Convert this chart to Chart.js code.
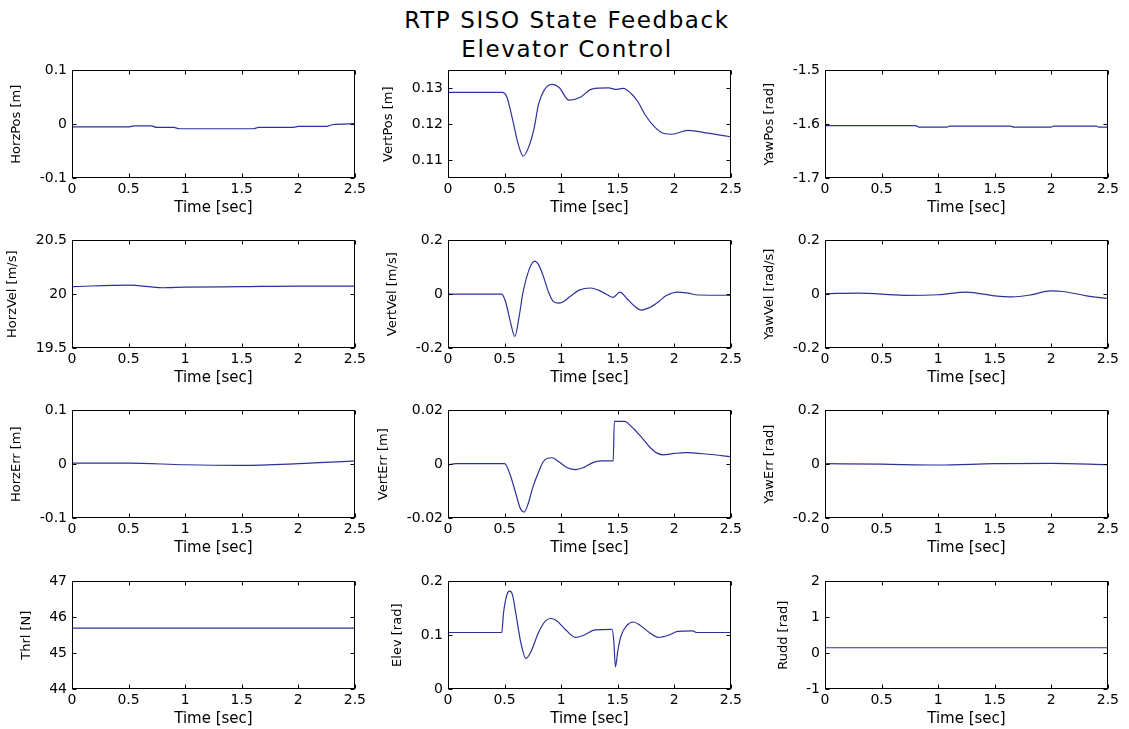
<!DOCTYPE html>
<html>
<head>
<meta charset="utf-8">
<script src="https://cdn.jsdelivr.net/npm/chart.js@4.4.1/dist/chart.umd.min.js"></script>
<style>
  html, body { margin: 0; padding: 0; background: #fff; }
  #fig { position: relative; width: 1129px; height: 729px; overflow: hidden; background: #fff; }
  #title {
    position: absolute; left: 0; top: 6px; width: 1134px;
    text-align: center; font: 23px/29px 'DejaVu Sans', sans-serif;
    letter-spacing: 1.6px; color: #000;
  }
  canvas { position: absolute; }
</style>
</head>
<body>
<div id="fig">
  <div id="title">RTP SISO State Feedback<br>Elevator Control</div>
</div>
<script>
// time axis ticks (shared by all panels)
var xTicks = [0, 0.5, 1, 1.5, 2, 2.5];

// row 1
var horzPosT = [0, 0.5, 0.55, 0.7, 0.75, 0.9, 0.95, 1.6, 1.65, 1.95, 2.0, 2.25, 2.3, 2.5];
var horzPosV = [-0.005, -0.005, -0.003, -0.003, -0.006, -0.006, -0.0085, -0.0085, -0.006, -0.006, -0.004, -0.004, -0.001, 0.001];
var horzPosTicks = [-0.1, 0, 0.1];

var vertPosT = [0, 0.48, 0.52, 0.57, 0.62, 0.664, 0.71, 0.76, 0.8, 0.85, 0.92, 0.98, 1.07, 1.17, 1.27, 1.42, 1.48, 1.55, 1.62, 1.68, 1.74, 1.83, 1.91, 1.98, 2.12, 2.3, 2.5];
var vertPosV = [0.1289, 0.1289, 0.1276, 0.1214, 0.1145, 0.1111, 0.1134, 0.1187, 0.1255, 0.1295, 0.1311, 0.1303, 0.1267, 0.1275, 0.1298, 0.1301, 0.1297, 0.1300, 0.1285, 0.1262, 0.1227, 0.1191, 0.1174, 0.1172, 0.1183, 0.1175, 0.1165];
var vertPosTicks = [0.11, 0.12, 0.13];

var yawPosT = [0, 0.8, 0.83, 1.08, 1.1, 1.64, 1.67, 2.0, 2.02, 2.4, 2.42, 2.5];
var yawPosV = [-1.6025, -1.6025, -1.6055, -1.6055, -1.6035, -1.6035, -1.6055, -1.6055, -1.6035, -1.6035, -1.6055, -1.6055];
var yawPosTicks = [-1.7, -1.6, -1.5];

// row 2
var horzVelT = [0, 0.5, 0.8, 1.0, 1.5, 2.0, 2.5];
var horzVelV = [20.07, 20.085, 20.06, 20.065, 20.07, 20.075, 20.075];
var horzVelTicks = [19.5, 20, 20.5];

var vertVelT = [0, 0.475, 0.51, 0.55, 0.59, 0.63, 0.66, 0.72, 0.767, 0.8, 0.84, 0.89, 0.93, 0.97, 1.01, 1.08, 1.16, 1.26, 1.33, 1.4, 1.46, 1.52, 1.58, 1.65, 1.71, 1.78, 1.86, 1.93, 2.03, 2.12, 2.21, 2.5];
var vertVelV = [0, 0, -0.03, -0.1, -0.157, -0.08, 0.0, 0.095, 0.123, 0.11, 0.07, 0.006, -0.027, -0.033, -0.03, -0.008, 0.015, 0.023, 0.015, 0.0, -0.012, 0.008, -0.016, -0.045, -0.059, -0.05, -0.028, -0.005, 0.008, 0.004, -0.003, -0.004];
var vertVelTicks = [-0.2, 0, 0.2];

var yawVelT = [0, 0.3, 0.7, 1.0, 1.25, 1.5, 1.65, 1.8, 2.0, 2.1, 2.3, 2.5];
var yawVelV = [0.002, 0.004, -0.004, -0.002, 0.008, -0.006, -0.01, -0.004, 0.012, 0.01, -0.005, -0.016];
var yawVelTicks = [-0.2, 0, 0.2];

// row 3
var horzErrT = [0, 0.5, 1.0, 1.5, 2.0, 2.5];
var horzErrV = [0.002, 0.002, -0.001, -0.002, 0.001, 0.006];
var horzErrTicks = [-0.1, 0, 0.1];

var vertErrT = [0, 0.07, 0.5, 0.55, 0.6, 0.64, 0.673, 0.71, 0.75, 0.8, 0.84, 0.88, 0.92, 0.97, 1.05, 1.13, 1.2, 1.28, 1.35, 1.46, 1.47, 1.56, 1.62, 1.7, 1.78, 1.84, 1.9, 2.0, 2.1, 2.3, 2.5];
var vertErrV = [-0.0002, 0.0002, 0.0002, -0.004, -0.011, -0.0165, -0.0178, -0.0145, -0.0085, -0.003, 0.0008, 0.0022, 0.0024, 0.0012, -0.0012, -0.002, -0.0012, 0.0006, 0.0012, 0.0012, 0.0159, 0.0159, 0.014, 0.0105, 0.0065, 0.0043, 0.0035, 0.004, 0.0043, 0.0037, 0.0028];
var vertErrTicks = [-0.02, 0, 0.02];

var yawErrT = [0, 0.5, 1.0, 1.5, 2.0, 2.5];
var yawErrV = [0.002, 0.0, -0.003, 0.002, 0.003, -0.002];
var yawErrTicks = [-0.2, 0, 0.2];

// row 4
var thrlT = [0, 2.5];
var thrlV = [45.7, 45.7];
var thrlTicks = [44, 45, 46, 47];

var elevT = [0, 0.475, 0.49, 0.52, 0.547, 0.57, 0.6, 0.64, 0.688, 0.73, 0.8, 0.86, 0.906, 0.96, 1.04, 1.126, 1.2, 1.3, 1.45, 1.465, 1.48, 1.5, 1.53, 1.58, 1.64, 1.7, 1.78, 1.857, 1.95, 2.03, 2.16, 2.2, 2.5];
var elevV = [0.105, 0.105, 0.14, 0.175, 0.182, 0.175, 0.14, 0.09, 0.057, 0.068, 0.105, 0.126, 0.131, 0.127, 0.11, 0.096, 0.1, 0.11, 0.111, 0.09, 0.041, 0.07, 0.099, 0.118, 0.1245, 0.118, 0.105, 0.096, 0.1, 0.107, 0.108, 0.105, 0.105];
var elevTicks = [0, 0.1, 0.2];

var ruddT = [0, 2.5];
var ruddV = [0.15, 0.15];
var ruddTicks = [-1, 0, 1, 2];

var panels = [
  { t: horzPosT, v: horzPosV, label: 'HorzPos [m]',    ticks: horzPosTicks, min: -0.1,  max: 0.1 },
  { t: vertPosT, v: vertPosV, label: 'VertPos [m]',    ticks: vertPosTicks, min: 0.105, max: 0.135 },
  { t: yawPosT,  v: yawPosV,  label: 'YawPos [rad]',   ticks: yawPosTicks,  min: -1.7,  max: -1.5 },
  { t: horzVelT, v: horzVelV, label: 'HorzVel [m/s]',  ticks: horzVelTicks, min: 19.5,  max: 20.5 },
  { t: vertVelT, v: vertVelV, label: 'VertVel [m/s]',  ticks: vertVelTicks, min: -0.2,  max: 0.2 },
  { t: yawVelT,  v: yawVelV,  label: 'YawVel [rad/s]', ticks: yawVelTicks,  min: -0.2,  max: 0.2 },
  { t: horzErrT, v: horzErrV, label: 'HorzErr [m]',    ticks: horzErrTicks, min: -0.1,  max: 0.1 },
  { t: vertErrT, v: vertErrV, label: 'VertErr [m]',    ticks: vertErrTicks, min: -0.02, max: 0.02 },
  { t: yawErrT,  v: yawErrV,  label: 'YawErr [rad]',   ticks: yawErrTicks,  min: -0.2,  max: 0.2 },
  { t: thrlT,    v: thrlV,    label: 'Thrl [N]',       ticks: thrlTicks,    min: 44,    max: 47 },
  { t: elevT,    v: elevV,    label: 'Elev [rad]',     ticks: elevTicks,    min: 0,     max: 0.2 },
  { t: ruddT,    v: ruddV,    label: 'Rudd [rad]',     ticks: ruddTicks,    min: -1,    max: 2 }
];

// layout
var PLOT_LEFT = [72, 448, 825];
var PLOT_TOP = [65, 235, 405, 576];
var PLOT_W = 285, PLOT_H = 113;
var PAD_TOP = 8, PAD_RIGHT = 12, X_AXIS_H = 45;
var FONT = 'DejaVu Sans';
var LINE_COLOR = '#30309a';

// matlab style box with inward ticks
var boxPlugin = {
  id: 'box',
  afterDraw: function(chart) {
    var ctx = chart.ctx, a = chart.chartArea;
    var l = Math.round(a.left) + 0.5, r = Math.round(a.right) - 0.5;
    var t = Math.round(a.top) + 0.5, b = Math.round(a.bottom) - 0.5;
    ctx.save();
    ctx.strokeStyle = '#000';
    ctx.lineWidth = 1;
    ctx.strokeRect(l, t, r - l, b - t);
    ctx.beginPath();
    chart.scales.x.ticks.forEach(function(tk) {
      var px = Math.round(chart.scales.x.getPixelForValue(tk.value)) + 0.5;
      ctx.moveTo(px, b); ctx.lineTo(px, b - 4);
      ctx.moveTo(px, t); ctx.lineTo(px, t + 4);
    });
    chart.scales.y.ticks.forEach(function(tk) {
      var py = Math.round(chart.scales.y.getPixelForValue(tk.value)) + 0.5;
      ctx.moveTo(l, py); ctx.lineTo(l + 4, py);
      ctx.moveTo(r, py); ctx.lineTo(r - 4, py);
    });
    ctx.stroke();
    ctx.restore();
  }
};

function makeConfig(p, padLeft) {
  return {
    type: 'line',
    data: {
      datasets: [{
        data: p.t.map(function(x, i) { return { x: x, y: p.v[i] }; }),
        borderColor: LINE_COLOR,
        borderWidth: 1.2,
        pointRadius: 0,
        fill: false,
        cubicInterpolationMode: 'monotone'
      }]
    },
    options: {
      responsive: false,
      maintainAspectRatio: false,
      animation: false,
      devicePixelRatio: 1,
      layout: { padding: { top: PAD_TOP, right: PAD_RIGHT, left: padLeft, bottom: 0 } },
      plugins: { legend: { display: false }, tooltip: { enabled: false } },
      scales: {
        x: {
          type: 'linear', min: 0, max: 2.5,
          afterBuildTicks: function(s) { s.ticks = xTicks.map(function(v) { return { value: v }; }); },
          afterFit: function(s) { s.height = X_AXIS_H; },
          ticks: {
            color: '#000', font: { family: FONT, size: 14 }, padding: 3,
            maxRotation: 0, autoSkip: false,
            callback: function(v) { return String(v); }
          },
          grid: { display: false, drawTicks: false },
          border: { display: false },
          title: { display: true, text: 'Time [sec]', color: '#000',
                   font: { family: FONT, size: 15 }, padding: { top: 2, bottom: 6 } }
        },
        y: {
          type: 'linear', min: p.min, max: p.max,
          afterBuildTicks: function(s) { s.ticks = p.ticks.map(function(v) { return { value: v }; }); },
          ticks: {
            color: '#000', font: { family: FONT, size: 14 }, padding: 5,
            autoSkip: false,
            callback: function(v) { return String(v); }
          },
          grid: { display: false, drawTicks: false },
          border: { display: false },
          title: { display: true, text: p.label, color: '#000',
                   font: { family: FONT, size: 13 }, padding: { top: 0, bottom: 10 } }
        }
      }
    },
    plugins: [boxPlugin]
  };
}

var fig = document.getElementById('fig');
var H = PAD_TOP + PLOT_H + X_AXIS_H;

panels.forEach(function(p, i) {
  var col = i % 3, row = Math.floor(i / 3);

  // first pass: find how wide the y axis wants to be
  var probe = document.createElement('canvas');
  probe.width = 420; probe.height = H;
  fig.appendChild(probe);
  var c0 = new Chart(probe, makeConfig(p, 0));
  var yw = c0.chartArea.left;
  c0.destroy();
  fig.removeChild(probe);

  var left = Math.ceil(yw);
  var canvas = document.createElement('canvas');
  canvas.width = left + PLOT_W + PAD_RIGHT;
  canvas.height = H;
  canvas.style.left = (PLOT_LEFT[col] - left) + 'px';
  canvas.style.top = (PLOT_TOP[row] - PAD_TOP) + 'px';
  fig.appendChild(canvas);
  new Chart(canvas, makeConfig(p, left - yw));
});
</script>
</body>
</html>
